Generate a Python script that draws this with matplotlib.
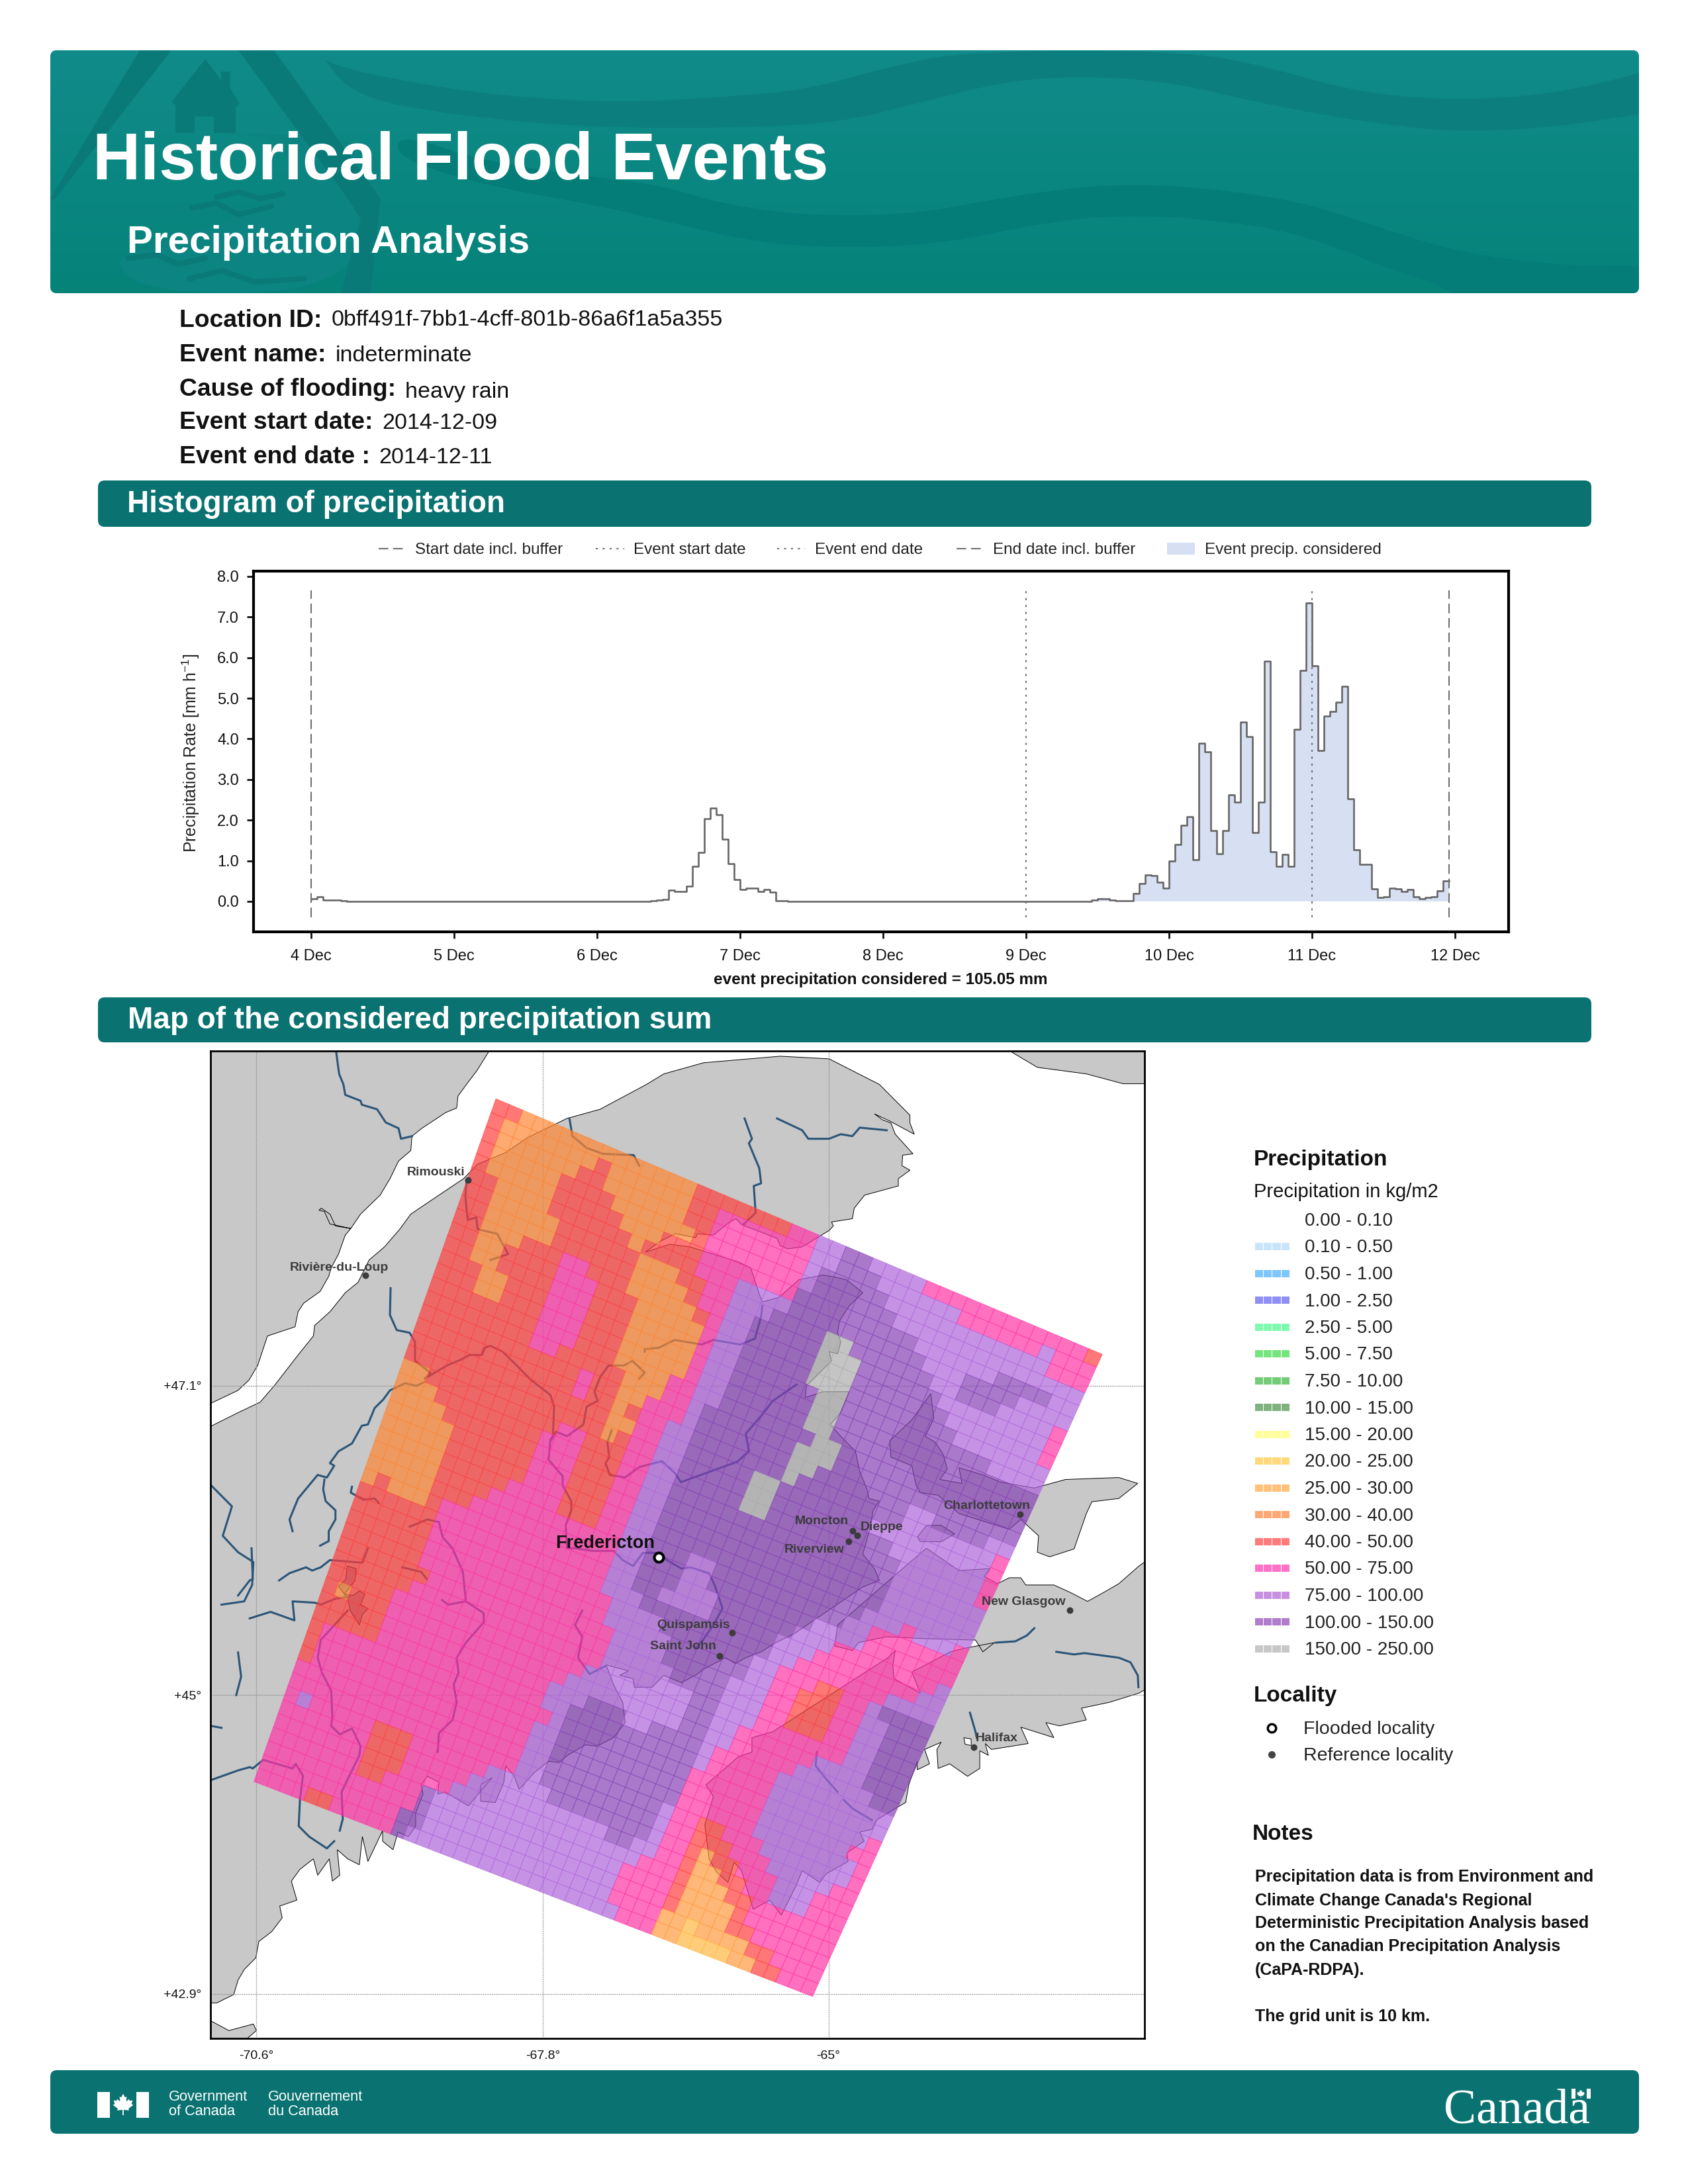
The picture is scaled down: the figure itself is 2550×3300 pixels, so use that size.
import numpy as np
import matplotlib
matplotlib.use("Agg")
import matplotlib.pyplot as plt
from matplotlib.collections import PolyCollection
from matplotlib.patches import FancyBboxPatch, Polygon, Rectangle

plt.rcParams["font.family"] = ["Liberation Sans", "DejaVu Sans"]
plt.rcParams["mathtext.default"] = "regular"

TEAL = "#0a7372"

# hourly precipitation rate, one list per day
dec4 = [.05, .06, .12, .03, .04, .03, .01, 0, 0, 0, 0, 0, 0, 0, 0, 0, 0, 0, 0, 0, 0, 0, 0, 0]
dec5 = [0, 0, 0, 0, 0, 0, 0, 0, 0, 0, 0, 0, 0, 0, 0, 0, 0, 0, 0, 0, 0, 0, 0, 0]
dec6 = [0, 0, 0, 0, 0, 0, 0, 0, 0, 0, .02, .04, .05, .28, .25, .25, .38, .87, 1.21, 2.03, 2.29, 2.14, 1.53, .93]
dec7 = [.53, .30, .32, .33, .25, .30, .22, .02, .01, 0, 0, 0, 0, 0, 0, 0, 0, 0, 0, 0, 0, 0, 0, 0]
dec8 = [0, 0, 0, 0, 0, 0, 0, 0, 0, 0, 0, 0, 0, 0, 0, 0, 0, 0, 0, 0, 0, 0, 0, 0]
dec9 = [0, 0, 0, 0, 0, 0, 0, 0, 0, 0, 0, 0, .04, .07, .06, .03, .02, .02, .02, .19, .44, .65, .63, .48]
dec10 = [.33, 1.00, 1.40, 1.87, 2.08, 1.02, 3.90, 3.69, 1.74, 1.18, 1.74, 2.62, 2.45, 4.41, 4.06, 1.70, 2.44, 5.92,
         1.22, .87, 1.15, .87, 4.24, 5.69]
dec11 = [7.35, 5.80, 3.72, 4.56, 4.68, 4.91, 5.29, 2.52, 1.27, .91, .92, .31, .10, .12, .33, .31, .24, .29, .11, .06,
         .09, .12, .26, .50]
day_labels = ["4 Dec", "5 Dec", "6 Dec", "7 Dec", "8 Dec", "9 Dec", "10 Dec", "11 Dec", "12 Dec"]
buffer_hours = [0, 191]
event_hours = [120, 168]
event_first_hour = 120

# grid cells: one string per row, letter = class, number = run length
cell_runs = [
    "d2 c13 d7 e2 f2 g2 f4 e12 d1",
    "d1 c7 d1 c6 d2 e7 f2 g3 f6 e6 f1 e3",
    "d1 c6 d2 c6 d2 e7 f1 g5 f12 e3",
    "d1 c5 d4 c6 d1 e7 f1 g6 f14",
    "d1 c5 d5 c3 d3 e7 g9 f6 g4 f2",
    "d2 c4 d6 c1 d4 e3 f4 g10 f3 g4 f4",
    "d2 c5 d6 c3 d2 e2 f3 g4 h2 g6 f2 g3 f4 e1",
    "d2 c5 d6 c4 d1 e2 f2 g5 h3 g6 f8 e1",
    "d2 c3 d3 e2 d3 c5 d1 e1 f2 g5 h3 g7 f7 e1",
    "d2 c2 d4 e3 d3 c5 e1 f2 g5 h3 g8 f7",
    "d2 c2 d4 e3 d3 c5 e1 f2 g6 h2 g11 f4",
    "d3 c2 d3 e3 d3 c5 e1 f2 g6 h2 g15",
    "d3 c2 d3 e3 d3 c5 e1 f2 g6 h2 g15",
    "d8 e3 d3 c4 e2 f2 g7 h2 g14",
    "d8 e2 d5 c3 e2 f1 g7 h3 g14",
    "d12 e1 d2 c2 e3 f1 g7 h2 g7 f2 g4 f2",
    "d12 e1 d2 c1 d1 e2 f2 g7 h1 g8 f7 e1",
    "d15 c2 e2 f2 g5 h2 g7 f9 e1",
    "d15 c1 d1 e2 f2 g5 h2 g9 f7 e1",
    "c2 d10 e2 d3 e2 f2 g5 h2 g10 f6 e1",
    "c3 d8 e3 d3 e2 f2 g17 f7",
    "c4 d7 e3 d3 e2 f2 g17 f7",
    "c5 d6 e3 d3 e2 f2 g17 f7",
    "c5 d6 e3 d3 e2 f2 g16 f3 e1 f3 e1",
    "c5 d5 e4 d3 e2 f2 g3 f2 g10 f2 e7",
    "c5 d4 e10 f2 g3 f2 g8 f4 e7",
    "c5 d3 e11 f2 g3 f3 g6 f3 e8 f1",
    "c1 d1 c3 d1 e13 f2 g2 f4 g5 f3 e8 f2",
    "d6 e13 f3 g10 f2 e7 f4",
    "d6 e14 f4 g7 f2 e3 d2 e2 f1 g4",
    "d6 e14 f5 g6 f2 e2 d3 e2 f2 g3",
    "d6 e15 f4 g5 f3 e2 d3 e2 f2 g3",
    "d7 e14 f5 g4 f3 e2 d3 e2 f2 g3",
    "d6 e15 f7 g2 f3 e7 f2 g3",
    "d5 e15 f8 g2 f2 e6 f4 g3",
    "d1 c1 d3 e14 f9 g2 f2 e5 f6 g2",
    "d5 e13 f3 g3 f2 g4 f1 e5 f9",
    "d5 e13 f2 g10 f1 e5 f9",
    "d1 e18 f1 g10 e6 f8 e1",
    "d1 e17 f2 g10 e6 f7 e2",
    "d1 e17 f2 g10 e6 f8 e1",
    "e18 f2 g9 f1 e2 d2 e3 f7 e1",
    "e18 f2 g9 f1 e2 d3 e3 f5 e2",
    "e1 f1 e5 d3 e6 f5 g8 f1 e2 d1 b1 d2 e3 f3 e3",
    "e7 d3 e5 f11 g2 f2 e2 d1 b2 d2 e2 f3 e3",
    "e7 d3 e4 f15 e3 d1 b3 d2 e7",
    "e7 d2 e3 g1 f15 e4 d1 b4 d1 e7",
    "e12 g1 f15 e4 d1 b4 d2 e6",
    "e11 g2 f15 e4 b2 a1 b4 d2 e4",
    "e4 d2 e5 g1 f17 e3 b2 a4 b2 d2 e3",
]
class_colors = {"a": "#ffb841", "b": "#ff9a3e", "c": "#ff8633", "d": "#ff3e3e",
                "e": "#ff33a5", "f": "#af64db", "g": "#8641b5", "h": "#acacac"}
grid_corners = {"tl": (486, 83), "tr": (1476, 473), "br": (1003, 1453), "bl": (91, 1125)}

legend_labels = ["0.00 - 0.10", "0.10 - 0.50", "0.50 - 1.00", "1.00 - 2.50", "2.50 - 5.00", "5.00 - 7.50",
                 "7.50 - 10.00", "10.00 - 15.00", "15.00 - 20.00", "20.00 - 25.00", "25.00 - 30.00",
                 "30.00 - 40.00", "40.00 - 50.00", "50.00 - 75.00", "75.00 - 100.00", "100.00 - 150.00",
                 "150.00 - 250.00"]
legend_colors = ["#ffffff", "#c8e4fb", "#7fc6fb", "#8f8ff5", "#7ffbb0", "#76e57f", "#74cc78", "#7fb27f", "#ffff99",
                 "#ffd97a", "#ffc27a", "#ffa875", "#ff7a7a", "#ff70c8", "#c890e0", "#b07ccc", "#c8c8c8"]

# geography, in map units of the map axes
land_main = [(20, 583), (65, 562), (101, 546), (124, 521), (163, 474), (188, 445), (190, 429), (215, 408), (240, 379),
             (261, 363), (279, 329), (304, 309), (329, 282), (347, 259), (393, 230), (433, 205), (456, 183), (502, 165),
             (538, 142), (602, 113), (656, 99), (732, 61), (760, 45), (825, 28), (950, 18), (1030, 22), (1112, 61),
             (1162, 108), (1162, 120), (1169, 137), (1129, 117), (1104, 106), (1117, 115), (1131, 120), (1138, 137),
             (1167, 167), (1150, 169), (1149, 185), (1162, 192), (1143, 205), (1143, 216), (1088, 230), (1071, 250),
             (1068, 266), (1034, 271), (1037, 277), (1030, 284), (986, 309), (962, 312), (950, 307), (945, 296),
             (887, 275), (878, 266), (868, 271), (841, 291), (815, 289), (812, 295), (779, 289), (755, 300), (730, 317),
             (770, 305), (803, 309), (882, 332), (902, 341), (916, 381), (921, 393), (948, 386), (981, 359), (1020, 352),
             (1034, 354), (1058, 359), (1085, 379), (1063, 399), (1047, 422), (1044, 440), (1049, 454), (1044, 472),
             (1030, 469), (1034, 483), (993, 521), (991, 539), (1020, 530), (1063, 530), (1049, 562), (1032, 580),
             (1049, 598), (1073, 621), (1080, 652), (1092, 679), (1095, 693), (1112, 697), (1102, 711), (1095, 745),
             (1085, 778), (1104, 800), (1112, 818), (1085, 828), (972, 900), (943, 913), (919, 927), (894, 936),
             (877, 945), (861, 936), (824, 954), (815, 961), (789, 974), (760, 963), (741, 981), (712, 981), (710, 968),
             (688, 963), (702, 956), (666, 947), (678, 977), (693, 1004), (697, 1035), (678, 1058), (651, 1071),
             (632, 1069), (603, 1085), (589, 1096), (572, 1094), (548, 1112), (524, 1137), (516, 1117), (502, 1101),
             (499, 1126), (485, 1157), (461, 1155), (461, 1130), (480, 1119), (441, 1162), (403, 1141), (391, 1144),
             (393, 1126), (374, 1117), (364, 1130), (367, 1144), (355, 1173), (355, 1193), (343, 1209), (326, 1202),
             (318, 1229), (301, 1216), (301, 1200), (277, 1247), (268, 1209), (263, 1252), (244, 1243), (227, 1229),
             (231, 1268), (219, 1277), (214, 1243), (195, 1268), (188, 1243), (166, 1259), (152, 1277), (161, 1306),
             (133, 1315), (137, 1333), (120, 1354), (99, 1369), (94, 1394), (75, 1412), (65, 1428), (58, 1450),
             (30, 1463), (20, 1463)]
land_north = [(20, 10), (20, 548), (65, 528), (83, 512), (97, 490), (113, 445), (158, 431), (163, 408), (172, 395),
              (199, 377), (213, 354), (217, 341), (229, 320), (240, 291), (249, 281), (224, 277), (215, 259), (201, 250),
              (197, 253), (206, 255), (215, 274), (249, 281), (265, 259), (297, 230), (313, 205), (327, 178), (347, 162),
              (349, 140), (365, 128), (383, 117), (404, 104), (422, 97), (424, 79), (438, 61), (455, 40), (475, 10)]
land_nova_scotia = [(1150, 800), (1189, 769), (1242, 803), (1293, 800), (1283, 812), (1305, 823), (1324, 814),
                    (1343, 814), (1351, 825), (1397, 825), (1423, 836), (1452, 850), (1479, 836), (1503, 823),
                    (1536, 796), (1545, 790), (1545, 985), (1536, 990), (1488, 1004), (1442, 1013), (1450, 1031),
                    (1406, 1040), (1384, 1035), (1397, 1058), (1343, 1042), (1355, 1067), (1295, 1076), (1285, 1067),
                    (1290, 1085), (1276, 1078), (1276, 1105), (1256, 1117), (1227, 1098), (1208, 1105), (1206, 1076),
                    (1213, 1065), (1186, 1076), (1194, 1098), (1174, 1107), (1174, 1094), (1160, 1130), (1155, 1157),
                    (1138, 1166), (1107, 1184), (1100, 1198), (1080, 1202), (1087, 1216), (1059, 1234), (1061, 1247),
                    (1025, 1266), (1015, 1279), (986, 1261), (976, 1284), (952, 1329), (933, 1306), (906, 1320),
                    (887, 1261), (875, 1248), (865, 1279), (846, 1263), (834, 1243), (827, 1191), (841, 1148),
                    (829, 1130), (882, 1087), (904, 1080), (904, 1058), (938, 1049), (1126, 936), (1138, 925),
                    (1134, 949), (1136, 968), (1179, 990), (1165, 958), (1228, 927), (1249, 922), (1300, 913),
                    (1281, 927), (1269, 909), (1187, 907), (1124, 904), (1078, 913), (1068, 925), (1039, 918),
                    (1044, 886)]
land_pei = [(1196, 533), (1201, 571), (1187, 598), (1203, 607), (1216, 625), (1223, 648), (1211, 664), (1247, 670),
            (1242, 646), (1281, 657), (1310, 668), (1365, 677), (1416, 664), (1503, 661), (1534, 670), (1503, 693),
            (1459, 698), (1450, 716), (1430, 770), (1390, 782), (1370, 775), (1372, 750), (1343, 725), (1324, 740),
            (1242, 716), (1208, 688), (1179, 684), (1172, 673), (1165, 643), (1131, 630), (1129, 605), (1165, 573)]
land_lens = [(1174, 752), (1189, 734), (1213, 734), (1235, 747), (1213, 759), (1179, 759)]
land_topright = [(1325, 10), (1370, 35), (1450, 45), (1510, 60), (1545, 60), (1545, 10)]
land_corner = [(20, 1490), (50, 1505), (90, 1495), (95, 1505), (80, 1517), (20, 1517)]
lake_moosehead = [(243, 796), (258, 800), (256, 818), (239, 839), (253, 841), (263, 834), (272, 839), (265, 855),
                  (277, 861), (268, 870), (263, 886), (248, 864), (244, 846), (229, 827), (241, 816)]
lake_halifax = [(1250, 1058), (1262, 1060), (1262, 1070), (1252, 1068)]
rivers = [
    [(225, 10), (230, 45), (237, 61), (240, 77), (265, 86), (267, 92), (292, 99), (306, 119), (327, 128), (331, 144), (349, 140)],
    [(438, 210), (436, 232), (440, 268), (454, 264), (456, 282), (488, 289), (506, 320), (477, 329)],
    [(606, 113), (611, 140), (634, 158), (661, 167), (711, 169), (720, 185)],
    [(314, 372), (313, 413), (324, 436), (345, 440), (354, 454), (354, 483), (379, 501), (370, 510)],
    [(370, 510), (406, 490), (429, 481), (443, 474), (463, 474), (468, 463), (477, 460), (497, 469), (520, 490), (543, 512),
     (575, 535), (581, 553), (579, 598), (575, 603), (572, 634), (595, 659), (595, 673), (609, 697), (609, 711), (600, 734),
     (602, 769), (615, 769), (644, 773), (678, 773), (693, 787), (710, 796), (726, 776), (751, 776), (765, 787), (789, 800),
     (803, 798), (834, 807), (844, 827), (856, 861), (841, 886), (824, 909), (812, 922)],
    [(675, 589), (668, 607), (671, 630), (665, 639), (672, 657), (697, 661), (720, 645), (757, 636), (778, 654), (788, 668),
     (880, 637), (899, 621), (894, 594), (919, 567), (938, 544), (977, 519)],
    [(729, 469), (729, 465), (752, 463), (778, 451), (822, 458), (841, 451), (885, 458), (909, 449), (919, 415), (921, 399)],
    [(720, 510), (729, 501), (709, 483), (695, 490), (670, 490), (656, 508), (647, 530), (652, 544), (634, 553), (629, 580),
     (602, 598), (584, 591), (577, 603)],
    [(154, 743), (149, 725), (163, 693), (195, 657), (210, 661), (222, 643), (215, 639), (229, 621), (251, 609), (267, 582),
     (277, 580), (288, 555), (302, 542), (313, 528), (338, 517), (356, 521), (370, 515)],
    [(206, 664), (204, 679), (208, 697), (224, 711), (224, 725), (213, 743), (213, 758), (199, 765)],
    [(20, 672), (55, 705), (40, 750), (65, 775), (90, 790), (88, 825), (75, 850), (38, 855)],
    [(251, 675), (249, 684), (270, 695), (288, 693), (295, 700)],
    [(345, 736), (374, 725), (393, 729), (399, 752), (415, 769), (432, 805), (437, 850), (466, 868), (466, 882), (437, 913),
     (422, 936), (425, 959), (417, 977), (422, 1004), (415, 1031), (393, 1051), (391, 1080)],
    [(398, 848), (408, 855), (437, 850)],
    [(333, 798), (364, 805), (373, 816)],
    [(132, 818), (149, 807), (176, 798), (186, 803), (200, 798), (215, 787), (268, 791), (277, 769)],
    [(84, 876), (118, 866), (157, 879), (154, 850), (190, 852), (200, 855), (224, 846), (246, 843)],
    [(65, 841), (84, 818), (89, 816), (87, 769)],
    [(244, 864), (200, 909), (195, 936), (202, 959), (217, 986), (219, 1026), (217, 1040), (231, 1053), (251, 1044), (265, 1071),
     (263, 1085), (234, 1141), (236, 1182), (231, 1200)],
    [(20, 1123), (65, 1108), (84, 1103), (89, 1105), (106, 1092), (154, 1105), (159, 1098), (171, 1116), (166, 1153), (164, 1193),
     (181, 1209), (210, 1227), (222, 1216)],
    [(627, 864), (615, 886), (627, 904), (620, 936), (639, 961), (664, 949)],
    [(65, 928), (70, 965), (62, 993)],
    [(20, 1040), (38, 1043)],
    [(892, 113), (904, 144), (899, 151), (916, 189), (919, 212), (907, 216), (910, 257), (890, 275)],
    [(945, 113), (986, 131), (996, 144), (1030, 144), (1049, 137), (1068, 140), (1080, 127), (1124, 131)],
    [(1302, 913), (1334, 911), (1353, 902), (1365, 891)],
    [(1401, 927), (1430, 931), (1447, 929), (1503, 936), (1522, 943), (1534, 963), (1535, 981)],
    [(1260, 1020), (1269, 1049), (1271, 1058)],
    [(1010, 1080), (1008, 1101), (1025, 1121), (1044, 1141)],
    [(1054, 1153), (1068, 1166), (1100, 1184)],
]
cities = ["Rimouski", "Rivière-du-Loup", "Moncton", "Dieppe", "Riverview", "Charlottetown", "New Glasgow", "Quispamsis",
          "Saint John", "Halifax"]
city_x = [440, 273, 1068, 1076, 1062, 1342, 1423, 872, 851, 1266]
city_y = [207, 352, 742, 749, 758, 717, 863, 898, 933, 1073]
label_x = [388, 230, 1018, 1116, 1006, 1288, 1347, 808, 792, 1304]
label_y = [194, 340, 727, 736, 770, 703, 850, 885, 918, 1058]
flooded = ("Fredericton", 752, 783, 664, 760)
lon_x = [95, 563, 1029]
lon_labels = ["-70.6°", "-67.8°", "-65°"]
lat_y = [521, 993, 1449]
lat_labels = ["+47.1°", "+45°", "+42.9°"]

wave_top = [(480, 76), (493, 96), (609, 123), (775, 147), (941, 155), (1105, 146), (1220, 135), (1335, 103), (1459, 77),
            (1785, 77), (1900, 97), (2053, 140), (2196, 152), (2340, 143), (2476, 112), (2600, 70), (2600, 150), (2476, 173),
            (2340, 193), (2196, 200), (2053, 183), (1909, 157), (1766, 123), (1632, 115), (1517, 123), (1383, 157), (1268, 185),
            (1124, 193), (899, 193), (700, 176), (534, 147)]
wave_low = [(601, 201), (733, 244), (899, 268), (1000, 280), (1096, 310), (1239, 327), (1383, 323), (1507, 300), (1670, 277),
            (1813, 283), (1957, 303), (2053, 333), (2196, 380), (2340, 400), (2476, 403), (2600, 403), (2600, 500), (2244, 500),
            (2196, 437), (2100, 407), (1957, 350), (1813, 330), (1689, 325), (1574, 337), (1431, 367), (1287, 375), (1144, 367),
            (1000, 333), (899, 310), (733, 280), (601, 240)]
swoosh = [(277, 201), (435, 205), (435, 302), (236, 370), (165, 394), (228, 443), (485, 443), (567, 351), (584, 254), (534, 205)]
sign_left = [(211, 76), (259, 76), (82, 302), (76, 300)]
sign_right = [(360, 76), (414, 76), (575, 300), (560, 443), (515, 443), (545, 330), (518, 290)]
house = [(310, 89), (259, 154), (265, 159), (265, 201), (294, 201), (294, 176), (323, 176), (323, 201), (356, 201), (356, 162),
         (362, 157), (348, 133), (348, 108), (334, 108), (334, 121)]
ripples = [[(327, 298), (360, 290), (393, 300), (427, 293)], [(290, 314), (327, 307), (360, 324), (410, 312)],
           [(194, 390), (236, 385), (269, 399), (310, 390)], [(286, 421), (335, 409), (385, 426), (460, 421)]]
leaf = [(0, -16), (3, -10), (6, -11), (5, -3), (10, -7), (11, -4), (16, -5), (14, 1), (17, 3), (9, 9), (10, 12), (1, 11), (1, 20),
        (-1, 20), (-1, 11), (-10, 12), (-9, 9), (-17, 3), (-14, 1), (-16, -5), (-11, -4), (-10, -7), (-5, -3), (-6, -11), (-3, -10)]


def chaikin(pts, n=3):
    # round off the corners of a closed outline
    p = np.array(pts, dtype=float)
    for _ in range(n):
        q = np.roll(p, -1, axis=0)
        p = np.column_stack([0.75 * p + 0.25 * q, 0.25 * p + 0.75 * q]).reshape(-1, 2)
    return p


def expand(run):
    out = []
    for token in run.split():
        out += [token[0]] * int(token[1:])
    return out


def axes_px(fig, left, top, right, bottom):
    return fig.add_axes([left / 2550, 1 - bottom / 3300, (right - left) / 2550, (bottom - top) / 3300])


def bar(page, x0, y0, x1, y1, color=TEAL, r=10):
    p = FancyBboxPatch((x0, y0), x1 - x0, y1 - y0, boxstyle=f"round,pad=0,rounding_size={r}", fc=color, ec="none")
    page.add_patch(p)
    return p


fig = plt.figure(figsize=(25.5, 33), dpi=100, facecolor="white")
page = fig.add_axes([0, 0, 1, 1])
page.axis("off")

# banner
box = bar(page, 76, 76, 2476, 443, color="#0e8a88")
grad = np.linspace(0, 1, 64)[:, None, None] * np.array([5, 131, 121]) + np.linspace(1, 0, 64)[:, None, None] * np.array([17, 139, 138])
img = page.imshow(grad.astype(np.uint8), extent=[76, 2476, 443, 76], aspect="auto", zorder=1)
img.set_clip_path(box)
for pts, col in [(swoosh, "#0c8482"), (wave_top, "#0c7e7e"), (wave_low, "#047d78")]:
    w = Polygon(chaikin(pts), fc=col, ec="none", zorder=2)
    page.add_patch(w)
    w.set_clip_path(box)
for pts in [sign_left, sign_right, house]:
    page.add_patch(Polygon(pts, fc="#0a7a79", ec="none", zorder=2))
for pts in ripples:
    xs, ys = zip(*pts)
    page.plot(xs, ys, color="#0a7a78", lw=6, solid_capstyle="round", zorder=2)
page.text(140, 245, "Historical Flood Events", color="white", fontsize=72, fontweight="bold", va="center", zorder=3)
page.text(192, 367, "Precipitation Analysis", color="white", fontsize=42, fontweight="bold", va="center", zorder=3)

# event details
meta = [("Location ID:", "0bff491f-7bb1-4cff-801b-86a6f1a5a355", 484, 501, 484),
        ("Event name:", "indeterminate", 536, 507, 537),
        ("Cause of flooding:", "heavy rain", 588, 612, 592),
        ("Event start date:", "2014-12-09", 639, 577, 640),
        ("Event end date :", "2014-12-11", 690, 572, 691)]
for name, val, y, vx, vy in meta:
    page.text(271, y, name, fontsize=26.8, fontweight="bold", va="center", color="#111111")
    page.text(vx, vy, val, fontsize=24.5, va="center", color="#111111")

bar(page, 148, 726, 2404, 796)
page.text(192, 762, "Histogram of precipitation", color="white", fontsize=33, fontweight="bold", va="center")
bar(page, 148, 1507, 2404, 1575)
page.text(193, 1542, "Map of the considered precipitation sum", color="white", fontsize=33, fontweight="bold", va="center")

# footer
bar(page, 76, 3128, 2476, 3224)
page.add_patch(Rectangle((147, 3161), 19, 39, fc="white", ec="none"))
page.add_patch(Rectangle((206, 3161), 19, 39, fc="white", ec="none"))
lf = np.array(leaf, dtype=float) * 0.9 + np.array([186, 3178])
page.add_patch(Polygon(lf, fc="white", ec="none"))
for x, a, b in [(255, "Government", "of Canada"), (405, "Gouvernement", "du Canada")]:
    page.text(x, 3169, a, color="white", fontsize=15.7, va="center")
    page.text(x, 3191, b, color="white", fontsize=15.7, va="center")
page.text(2181, 3207, "Canada", color="white", fontsize=53, family="Liberation Serif", va="baseline")
page.add_patch(Rectangle((2374, 3156), 6, 15, fc="white", ec="none"))
page.add_patch(Rectangle((2397, 3156), 6, 15, fc="white", ec="none"))
page.add_patch(Polygon(np.array(leaf, dtype=float) * 0.35 + np.array([2388, 3163]), fc="white", ec="none"))

# legend of the histogram
handles = [(572, 612, 627, "Start date incl. buffer", (0, (7, 3.5))), (900, 943, 957, "Event start date", (0, (1.5, 3.5))),
           (1174, 1216, 1231, "Event end date", (0, (1.5, 3.5))), (1445, 1486, 1500, "End date incl. buffer", (0, (7, 3.5)))]
for x0, x1, xt, lab, ls in handles:
    page.plot([x0, x1], [829, 829], color="#707070", lw=1.5, ls=ls)
    page.text(xt, 831, lab, fontsize=17.5, va="center", color="#222222")
page.add_patch(Rectangle((1763, 820), 42, 18, fc="#d6e0f2", ec="none"))
page.text(1820, 831, "Event precip. considered", fontsize=17.5, va="center", color="#222222")

# legend of the map
page.text(1894, 1752, "Precipitation", fontsize=24, fontweight="bold", va="center", color="#111111")
page.text(1894, 1801, "Precipitation in kg/m2", fontsize=21, va="center", color="#111111")
for i, (lab, col) in enumerate(zip(legend_labels, legend_colors)):
    y = 1843 + i * 40.5
    if i > 0:
        for j in range(4):
            page.add_patch(Rectangle((1896 + j * 13.2, y - 5.5), 12.2, 11, fc=col, ec="none"))
    page.text(1971, y + 2, lab, fontsize=20, va="center", color="#222222")
page.text(1894, 2562, "Locality", fontsize=24, fontweight="bold", va="center", color="#111111")
page.plot([1921], [2611], "o", ms=9, mfc="white", mec="black", mew=2.5)
page.text(1969, 2613, "Flooded locality", fontsize=20.5, va="center", color="#222222")
page.plot([1921], [2651], "o", ms=7, mfc="#444444", mec="#444444")
page.text(1969, 2653, "Reference locality", fontsize=20.5, va="center", color="#222222")
page.text(1892, 2771, "Notes", fontsize=24, fontweight="bold", va="center", color="#111111")
notes = ["Precipitation data is from Environment and", "Climate Change Canada's Regional",
         "Deterministic Precipitation Analysis based", "on the Canadian Precipitation Analysis", "(CaPA-RDPA)."]
for y, line in zip([2836, 2872, 2906, 2941, 2977], notes):
    page.text(1896, y, line, fontsize=18, fontweight="bold", va="center", color="#111111")
page.text(1896, 3047, "The grid unit is 10 km.", fontsize=18, fontweight="bold", va="center", color="#111111")

page.set_xlim(0, 2550)
page.set_ylim(3300, 0)

# histogram
ax = axes_px(fig, 383, 863, 2279, 1408)
rate = np.array(dec4 + dec5 + dec6 + dec7 + dec8 + dec9 + dec10 + dec11, dtype=float)
hours = np.arange(len(rate))
ax.fill_between(hours[event_first_hour:], rate[event_first_hour:], step="pre", color="#d6e0f2", lw=0)
ax.step(hours, rate, where="pre", color="#666666", lw=1.9)
ax.vlines(buffer_hours, -0.39, 7.66, color="#707070", lw=1.5, linestyles=[(0, (7, 3.5))])
ax.vlines(event_hours, -0.39, 7.66, color="#707070", lw=1.5, linestyles=[(0, (1.5, 3.5))])
ax.set_xlim(-9.67, 201)
ax.set_ylim(-0.75, 8.13)
ax.set_xticks(np.arange(0, 193, 24))
ax.set_xticklabels(day_labels)
ax.set_yticks(np.arange(0, 9))
ax.set_yticklabels([f"{v:.1f}" for v in np.arange(0, 9)])
ax.tick_params(length=7, width=2, labelsize=17, colors="#111111")
ax.tick_params(axis="x", pad=12)
ax.tick_params(axis="y", pad=9)
for s in ax.spines.values():
    s.set_linewidth(3)
page.text(288, 1138, "Precipitation Rate [mm h$^{-1}$]", rotation=90, fontsize=17.9, ha="center", va="center", color="#222222")
page.text(1330, 1481, "event precipitation considered = 105.05 mm", fontsize=17.5, fontweight="bold", ha="center", va="center", color="#111111")

# map
mp = axes_px(fig, 318, 1588, 1729, 3080)
mp.set_xlim(20, 1545)
mp.set_ylim(1517, 10)
for pts in [land_main, land_north, land_nova_scotia, land_pei, land_lens, land_topright, land_corner]:
    mp.add_patch(Polygon(pts, fc="#c8c8c8", ec="black", lw=0.7, zorder=1))
mp.add_patch(Polygon(lake_moosehead, fc="#8a97a8", ec="black", lw=0.7, zorder=1.1))
mp.add_patch(Polygon(lake_halifax, fc="white", ec="black", lw=0.7, zorder=1.1))
for x in lon_x:
    mp.axvline(x, color="#8c8c8c", lw=1, ls=(0, (1, 1)), zorder=1.5)
for y in lat_y:
    mp.axhline(y, color="#8c8c8c", lw=1, ls=(0, (1, 1)), zorder=1.5)
for r in rivers:
    xs, ys = zip(*r)
    mp.plot(xs, ys, color="#2b5578", lw=2.2, zorder=2)

classes = [expand(r) for r in cell_runs]
n_rows, n_cols = len(classes), len(classes[0])
tl, tr, br, bl = (np.array(grid_corners[k], dtype=float) for k in ("tl", "tr", "br", "bl"))
polys, faces, edges = [], [], []
for i, row in enumerate(classes):
    for j, cls in enumerate(row):
        quad = []
        for u, v in [(j, i), (j + 1, i), (j + 1, i + 1), (j, i + 1)]:
            u, v = u / n_cols, v / n_rows
            quad.append((1 - v) * ((1 - u) * tl + u * tr) + v * ((1 - u) * bl + u * br))
        polys.append(quad)
        rgb = matplotlib.colors.to_rgb(class_colors[cls])
        faces.append(rgb + (0.7,))
        edges.append(rgb + (0.6,))
mp.add_collection(PolyCollection(polys, facecolors=faces, edgecolors=edges, linewidths=0.7, zorder=3))

mp.scatter(city_x, city_y, s=38, color="#3c3c3c", zorder=5)
for name, x, y in zip(cities, label_x, label_y):
    mp.text(x, y + 1, name, fontsize=14, fontweight="bold", color="#3c3c3c", ha="center", va="center", zorder=6)
mp.scatter([flooded[1]], [flooded[2]], s=100, facecolor="white", edgecolor="black", linewidth=3, zorder=6)
mp.text(flooded[3], flooded[4] + 1, flooded[0], fontsize=19.6, fontweight="bold", color="#111111", ha="center", va="center", zorder=6)
mp.set_xticks(lon_x)
mp.set_xticklabels(lon_labels)
mp.set_yticks(lat_y)
mp.set_yticklabels(lat_labels)
mp.tick_params(length=0, labelsize=14, colors="#111111")
mp.tick_params(axis="x", pad=13)
mp.tick_params(axis="y", pad=10)
for s in mp.spines.values():
    s.set_linewidth(2)
    s.set_zorder(10)

fig.savefig("out.png", dpi=100, facecolor="white")
